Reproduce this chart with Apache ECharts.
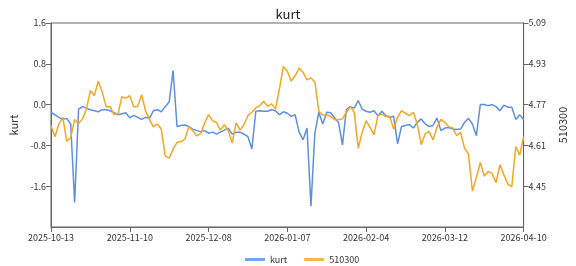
<!DOCTYPE html>
<html>
<head>
<meta charset="utf-8">
<script src="https://cdn.jsdelivr.net/npm/echarts@6/dist/echarts.min.js"></script>
<style>html,body{margin:0;padding:0;background:#fff}#c{width:576px;height:266px}</style>
</head>
<body>
<div id="c"></div>
<script>
const dates = [
"2025-10-13","2025-10-14","2025-10-15","2025-10-16","2025-10-17","2025-10-20","2025-10-21","2025-10-22","2025-10-23","2025-10-24",
"2025-10-27","2025-10-28","2025-10-29","2025-10-30","2025-10-31","2025-11-03","2025-11-04","2025-11-05","2025-11-06","2025-11-07",
"2025-11-10","2025-11-11","2025-11-12","2025-11-13","2025-11-14","2025-11-17","2025-11-18","2025-11-19","2025-11-20","2025-11-21",
"2025-11-24","2025-11-25","2025-11-26","2025-11-27","2025-11-28","2025-12-01","2025-12-02","2025-12-03","2025-12-04","2025-12-05",
"2025-12-08","2025-12-09","2025-12-10","2025-12-11","2025-12-12","2025-12-15","2025-12-16","2025-12-17","2025-12-18","2025-12-19",
"2025-12-22","2025-12-23","2025-12-24","2025-12-25","2025-12-26","2025-12-29","2025-12-30","2025-12-31","2026-01-05","2026-01-06",
"2026-01-07","2026-01-08","2026-01-09","2026-01-12","2026-01-13","2026-01-14","2026-01-15","2026-01-16","2026-01-19","2026-01-20",
"2026-01-21","2026-01-22","2026-01-23","2026-01-26","2026-01-27","2026-01-28","2026-01-29","2026-01-30","2026-02-02","2026-02-03",
"2026-02-04","2026-02-05","2026-02-06","2026-02-09","2026-02-10","2026-02-11","2026-02-12","2026-02-13","2026-02-24","2026-02-25",
"2026-02-26","2026-02-27","2026-03-02","2026-03-03","2026-03-04","2026-03-05","2026-03-06","2026-03-09","2026-03-10","2026-03-11",
"2026-03-12","2026-03-13","2026-03-16","2026-03-17","2026-03-18","2026-03-19","2026-03-20","2026-03-23","2026-03-24","2026-03-25",
"2026-03-26","2026-03-27","2026-03-30","2026-03-31","2026-04-01","2026-04-02","2026-04-03","2026-04-07","2026-04-08","2026-04-09",
"2026-04-10"
];
const kurt = [
-0.15,-0.20,-0.25,-0.29,-0.27,-0.38,-1.92,-0.09,-0.04,-0.07,
-0.10,-0.12,-0.14,-0.10,-0.10,-0.12,-0.16,-0.20,-0.18,-0.16,
-0.26,-0.21,-0.25,-0.29,-0.25,-0.27,-0.12,-0.10,-0.14,-0.04,
0.05,0.67,-0.43,-0.41,-0.40,-0.43,-0.48,-0.51,-0.53,-0.51,
-0.56,-0.54,-0.58,-0.54,-0.50,-0.46,-0.58,-0.54,-0.54,-0.58,
-0.63,-0.87,-0.13,-0.12,-0.13,-0.13,-0.10,-0.12,-0.20,-0.14,
-0.17,-0.23,-0.20,-0.54,-0.69,-0.46,-1.99,-0.56,-0.15,-0.38,
-0.15,-0.16,-0.26,-0.35,-0.79,-0.10,-0.04,-0.07,0.08,-0.09,
-0.13,-0.15,-0.12,-0.22,-0.13,-0.22,-0.25,-0.23,-0.77,-0.43,
-0.41,-0.39,-0.46,-0.35,-0.28,-0.38,-0.43,-0.41,-0.26,-0.51,
-0.46,-0.45,-0.48,-0.49,-0.48,-0.35,-0.27,-0.38,-0.61,0.00,
0.00,-0.02,0.00,-0.04,-0.12,-0.01,-0.05,-0.05,-0.29,-0.20,
-0.29
];
const etf510300 = [
4.687,4.644,4.694,4.720,4.626,4.641,4.711,4.696,4.714,4.753,
4.825,4.805,4.862,4.819,4.762,4.762,4.731,4.733,4.801,4.795,
4.805,4.762,4.763,4.809,4.746,4.711,4.683,4.694,4.674,4.569,
4.560,4.595,4.622,4.624,4.635,4.683,4.668,4.647,4.657,4.697,
4.731,4.707,4.700,4.670,4.691,4.668,4.619,4.698,4.670,4.691,
4.727,4.740,4.757,4.766,4.783,4.763,4.773,4.753,4.832,4.920,
4.901,4.862,4.884,4.913,4.897,4.867,4.875,4.858,4.744,4.729,
4.729,4.724,4.711,4.711,4.714,4.740,4.762,4.740,4.599,4.661,
4.707,4.681,4.651,4.727,4.733,4.723,4.724,4.674,4.720,4.746,
4.736,4.727,4.740,4.694,4.613,4.655,4.665,4.631,4.681,4.712,
4.700,4.683,4.678,4.648,4.661,4.599,4.576,4.431,4.484,4.543,
4.490,4.508,4.500,4.464,4.534,4.494,4.458,4.448,4.605,4.572,
4.644
];
const leftTicks = { min: -2.4, max: 1.6, step: 0.8 };
const rightTicks = { min: 4.29, max: 5.09, step: 0.16 };

const FONT = '"Noto Sans CJK SC", "DejaVu Sans", sans-serif';
const chart = echarts.init(document.getElementById('c'), null, { renderer: 'canvas' });
chart.setOption({
  animation: false,
  backgroundColor: '#fff',
  title: { text: 'kurt', left: 'center', top: 3,
    textStyle: { fontFamily: FONT, fontSize: 13, fontWeight: 'normal', color: '#222' } },
  legend: { left: 240, top: 250, itemWidth: 20, itemHeight: 3, itemGap: 17, icon: 'rect',
    textStyle: { fontFamily: FONT, fontSize: 9, color: '#333' },
    data: ['kurt', '510300'] },
  grid: { left: 45, right: 40, top: 23, bottom: 39, show: true, borderColor: '#666', borderWidth: 1 },
  xAxis: {
    type: 'category', data: dates, boundaryGap: false,
    axisLine: { onZero: false, lineStyle: { color: '#666' } },
    axisTick: { interval: 19, lineStyle: { color: '#666' } },
    axisLabel: { interval: 19, fontFamily: FONT, fontSize: 9, color: '#333', margin: 6 },
    splitLine: { show: false }
  },
  yAxis: [
    { type: 'value', name: 'kurt', nameLocation: 'middle', nameGap: 32,
      nameTextStyle: { fontFamily: FONT, fontSize: 11, color: '#333' },
      min: leftTicks.min, max: leftTicks.max, interval: leftTicks.step,
      axisLine: { show: true, onZero: false, lineStyle: { color: '#666' } },
      axisTick: { show: true, lineStyle: { color: '#666' } },
      axisLabel: { showMinLabel: false, fontFamily: FONT, fontSize: 9, color: '#333', margin: 5,
        formatter: v => v.toFixed(1) },
      splitLine: { show: false } },
    { type: 'value', name: '510300', nameLocation: 'middle', nameGap: 30, position: 'right',
      nameTextStyle: { fontFamily: FONT, fontSize: 11, color: '#333' },
      min: rightTicks.min, max: rightTicks.max, interval: rightTicks.step,
      axisLine: { show: true, onZero: false, lineStyle: { color: '#666' } },
      axisTick: { show: true, lineStyle: { color: '#666' } },
      axisLabel: { showMinLabel: false, fontFamily: FONT, fontSize: 9, color: '#333', margin: 5,
        formatter: v => v.toFixed(2) },
      splitLine: { show: false } }
  ],
  series: [
    { name: 'kurt', type: 'line', data: kurt, yAxisIndex: 0, symbol: 'none',
      lineStyle: { width: 1.5, color: '#5f8fe0' }, itemStyle: { color: '#7aa3e8' } },
    { name: '510300', type: 'line', data: etf510300, yAxisIndex: 1, symbol: 'none',
      lineStyle: { width: 1.5, color: '#f5a623' }, itemStyle: { color: '#f7b84a' } }
  ]
});
</script>
</body>
</html>
